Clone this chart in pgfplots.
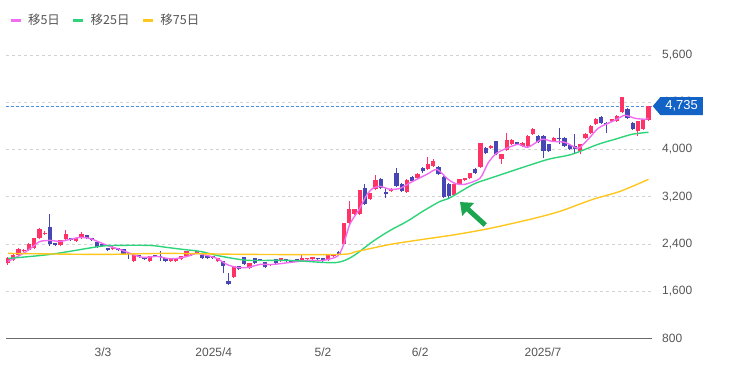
\documentclass[border=0pt]{standalone}
\usepackage{fontspec}
\setmainfont{Liberation Sans}
\newfontfamily\cjk{Noto Sans CJK JP}
\usepackage{pgfplots}
\usepackage{pgfplotstable}
\pgfplotsset{compat=1.18}
\usetikzlibrary{arrows.meta,shapes.symbols}

\definecolor{cup}{HTML}{FF3366}
\definecolor{cdn}{HTML}{4646B4}
\definecolor{maA}{HTML}{F06CF0}
\definecolor{maB}{HTML}{2ED47A}
\definecolor{maC}{HTML}{FFC61E}
\definecolor{gridc}{HTML}{D2D2D2}
\definecolor{labc}{HTML}{555555}
\definecolor{boxc}{HTML}{1363C6}
\definecolor{pricel}{HTML}{4A90E2}
\definecolor{arrowc}{HTML}{1DA650}

% up candles (close > open): red
\pgfplotstableread{
i o h l c
0 2071 2180 2050 2156
1 2122 2230 2110 2207
2 2207 2330 2190 2309
3 2280 2320 2270 2300
4 2292 2410 2280 2393
5 2326 2510 2310 2495
6 2495 2670 2480 2648
7 2570 2620 2560 2590
10 2376 2475 2360 2461
11 2478 2631 2470 2563
13 2444 2510 2435 2495
14 2495 2597 2490 2563
20 2309 2360 2300 2342
24 2105 2215 2090 2207
27 2105 2200 2095 2190
31 2105 2165 2095 2156
32 2105 2150 2095 2140
33 2139 2200 2130 2190
34 2190 2290 2180 2275
35 2207 2255 2200 2241
36 2241 2285 2235 2275
40 2105 2165 2095 2156
43 1834 2030 1820 2020
46 1990 2085 1980 2071
50 2037 2065 2030 2054
52 2105 2170 2095 2156
56 2122 2224 2110 2156
57 2139 2170 2130 2160
58 2139 2185 2130 2173
61 2122 2215 2115 2207
62 2190 2235 2185 2224
64 2393 2760 2380 2749
65 2749 3122 2740 2987
66 2902 3000 2890 2987
67 2902 3320 2890 3309
69 3156 3270 3145 3258
70 3326 3563 3310 3478
73 3292 3340 3280 3326
76 3275 3495 3260 3478
78 3512 3600 3500 3580
80 3665 3868 3650 3749
81 3715 3834 3700 3800
85 3224 3420 3210 3410
86 3410 3505 3400 3495
87 3478 3525 3465 3512
88 3512 3610 3500 3597
90 3700 4115 3690 4105
92 4021 4070 4010 4054
94 3834 3930 3749 3919
95 3987 4275 3975 4156
96 4088 4170 4075 4156
98 4054 4120 4040 4105
99 4054 4240 4040 4224
100 4258 4360 4245 4343
104 4139 4205 4125 4190
109 3970 4100 3919 4088
110 4190 4275 4175 4258
111 4275 4410 4260 4393
112 4427 4530 4415 4512
115 4478 4525 4465 4512
116 4478 4580 4465 4563
117 4631 4895 4620 4885
120 4309 4490 4224 4478
121 4343 4525 4330 4512
122 4500 4745 4490 4735
}\upT

% down candles (close < open): blue
\pgfplotstableread{
i o h l c
8 2681 2902 2359 2393
9 2410 2420 2360 2376
12 2495 2510 2450 2461
15 2546 2560 2480 2495
16 2495 2505 2450 2461
17 2427 2440 2330 2342
18 2393 2400 2350 2359
19 2326 2335 2280 2292
21 2326 2340 2280 2292
22 2309 2320 2215 2224
23 2241 2250 2139 2224
25 2207 2215 2165 2173
26 2173 2180 2130 2139
28 2207 2215 2180 2190
29 2200 2275 2105 2190
30 2156 2165 2095 2105
37 2207 2215 2150 2156
38 2190 2200 2145 2156
39 2190 2200 2150 2160
41 2105 2115 1902 2020
42 1766 1902 1700 1715
44 2020 2030 1960 1970
45 2173 2185 2045 2054
47 2156 2165 2060 2071
48 2139 2150 2115 2122
49 2088 2095 1995 2003
51 2139 2150 2060 2071
53 2139 2150 2095 2105
54 2122 2135 2080 2088
55 2139 2150 2095 2105
59 2160 2170 2130 2140
60 2156 2165 2095 2105
63 2258 2275 2215 2224
68 3343 3410 3060 3071
71 3495 3510 3330 3343
72 3275 3343 3173 3241
74 3597 3681 3360 3376
75 3410 3425 3280 3292
77 3529 3545 3450 3461
79 3681 3700 3600 3631
82 3698 3715 3570 3580
83 3529 3545 3180 3190
84 3410 3425 3156 3207
89 3665 3680 3585 3597
91 4021 4040 3920 3936
93 4139 4150 3905 3919
97 4122 4135 4075 4088
101 4224 4240 4110 4122
102 4224 4240 3851 3970
103 4088 4100 3960 3970
105 4190 4359 4088 4173
106 4190 4205 4040 4054
107 4071 4085 3990 4004
108 4054 4258 3919 4004
113 4546 4560 4430 4444
114 4444 4460 4275 4427
118 4681 4695 4515 4529
119 4444 4460 4330 4343
}\dnT

\begin{document}
\begin{tikzpicture}
\useasboundingbox (0,0) rectangle (730pt,370pt);
\begin{axis}[
  at={(6pt,31.5pt)}, anchor=south west,
  scale only axis, width=646pt, height=301.2pt,
  xmin=-0.38, xmax=122.67, ymin=800, ymax=5900,
  clip=false,
  axis x line*=bottom, axis y line*=right,
  axis line style={-},
  x axis line style={draw=black!58, line width=1.3pt},
  y axis line style={draw=none},
  major tick length=0pt,
  ytick={800,1600,2400,3200,4000,4800,5600},
  ymajorgrids,
  grid style={gridc, dash pattern=on 3pt off 3pt, line width=0.8pt},
  scaled y ticks=false,
  /pgf/number format/.cd, 1000 sep={,}, assume math mode=true, /pgfplots/.cd,
  yticklabel pos=right,
  yticklabel style={anchor=west, inner sep=0pt, xshift=10pt, font=\fontsize{12}{14}\selectfont, text=labc},
  xtick={18.1,39.2,60,78.5,101.9},
  xticklabels={3/3,2025/4,5/2,6/2,2025/7},
  xticklabel style={anchor=north, inner sep=0pt, yshift=-9pt, font=\fontsize{12}{14}\selectfont, text=labc},
  legend columns=3,
  legend style={at={(0,1)}, anchor=west, xshift=3pt, yshift=17pt, draw=none, fill=none, inner sep=0pt,
    font=\cjk\fontsize{12.5}{14}\selectfont, text=labc,
    nodes={inner xsep=1pt},
    /tikz/every odd column/.append style={column sep=5pt},
    /tikz/every even column/.append style={column sep=11pt}},
  legend image code/.code={\draw[line width=2.8pt] (0pt,0pt) -- (10pt,0pt);},
]
% current price line
\addplot[forget plot, pricel, line width=0.9pt, dash pattern=on 3pt off 2pt] coordinates {(-0.38,4735) (122.67,4735)};

% wicks
\addplot[forget plot, draw=none, mark=none,
  error bars/.cd, y dir=plus, y explicit, error mark=none,
  error bar style={draw=cup, line width=1pt}]
  table[x=i, y=l, y error expr=\thisrow{h}-\thisrow{l}] {\upT};
\addplot[forget plot, draw=none, mark=none,
  error bars/.cd, y dir=plus, y explicit, error mark=none,
  error bar style={draw=cdn, line width=1pt}]
  table[x=i, y=l, y error expr=\thisrow{h}-\thisrow{l}] {\dnT};
% bodies
\addplot[forget plot, draw=none, mark=none,
  error bars/.cd, y dir=plus, y explicit, error mark=none,
  error bar style={draw=cup, line width=4.2pt}]
  table[x=i, y=o, y error expr=\thisrow{c}-\thisrow{o}] {\upT};
\addplot[forget plot, draw=none, mark=none,
  error bars/.cd, y dir=plus, y explicit, error mark=none,
  error bar style={draw=cdn, line width=4.2pt}]
  table[x=i, y=c, y error expr=\thisrow{o}-\thisrow{c}] {\dnT};

% moving averages
\addplot[maA, line width=1.4pt, smooth, tension=0.4] coordinates {
(0,2105)(2.9,2241)(4.8,2359)(6.1,2444)(8,2461)(9.9,2444)(11.8,2478)(13.7,2512)(15.6,2495)(17.5,2427)(19.4,2359)(21.3,2309)(23.8,2224)(25.7,2173)(28.4,2190)(30.3,2156)(32.2,2156)(34.1,2190)(36,2241)(37.9,2207)(39.8,2156)(41.7,2054)(43.6,2003)(45.7,2003)(48,2054)(50.5,2054)(53.7,2088)(57,2122)(60,2122)(62.7,2190)(63.8,2359)(65.1,2732)(67,3003)(68.4,3241)(69.5,3343)(70.9,3376)(72.8,3326)(74.7,3343)(77.1,3461)(79.8,3580)(81.7,3665)(83.6,3512)(85.1,3427)(87,3410)(89.9,3512)(91.4,3766)(92.8,3919)(94.1,3987)(97.1,4088)(99,4037)(101.7,4173)(103.6,4139)(106.1,4122)(108.6,4021)(110.5,4173)(112.4,4359)(114.3,4444)(115.6,4495)(117.5,4580)(119.4,4529)(121.3,4512)(122,4529)};
\addlegendentry{移5日}
\addplot[maB, line width=1.4pt, smooth, tension=0.5] coordinates {
(0,2156)(8,2224)(17.5,2359)(20.8,2376)(27,2376)(30.3,2342)(33.3,2309)(36.6,2275)(39.8,2207)(42.9,2156)(46.1,2122)(53.7,2122)(60,2088)(62.7,2088)(64.6,2139)(66.5,2241)(69.5,2444)(72.8,2631)(76,2783)(79,2953)(82.3,3122)(84,3173)(88.6,3410)(91.8,3512)(97.5,3681)(102.9,3834)(107.4,3919)(112.4,4088)(115.6,4173)(118.9,4258)(122,4292)};
\addlegendentry{移25日}
\addplot[maC, line width=1.4pt, smooth, tension=0.5] coordinates {
(0,2241)(17.5,2224)(30.3,2241)(46.1,2224)(63.2,2224)(66.5,2275)(72.8,2393)(79,2478)(85.5,2563)(91.8,2665)(99.4,2817)(105.1,2953)(111.4,3156)(116.6,3292)(122,3495)};
\addlegendentry{移75日}

% annotation arrow
\draw[arrowc, line width=5pt, -{Triangle[width=17pt,length=11pt]}] (axis cs:90.9,2722) -- (axis cs:86.1,3111);
\coordinate (pl) at (axis cs:122.67,4735);
\end{axis}
\node[signal, signal to=west, signal pointer angle=100, fill=boxc, text=white,
  anchor=west, inner xsep=5pt, inner ysep=0pt, minimum height=18pt,
  font=\fontsize{13}{15}\selectfont] at ([xshift=0.5pt]pl) {4,735};
\end{tikzpicture}
\end{document}
